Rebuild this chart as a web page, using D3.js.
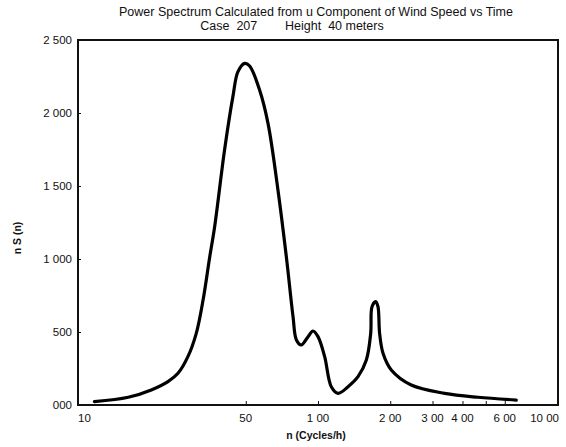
<!DOCTYPE html>
<html>
<head>
<meta charset="utf-8">
<script src="https://cdn.jsdelivr.net/npm/d3@7"></script>
<style>
  body { margin: 0; background: #fff; }
  text { font-family: "Liberation Sans", Arial, sans-serif; fill: #111; }
</style>
</head>
<body>
<div id="chart"></div>
<script>
// frequency n (cycles/h) and n S(n)
var freq = [11.7, 16.2, 20.2, 23.7, 26.1, 28.7, 31.1, 33.2, 35.4, 37.1, 40.8, 44.2, 46.4, 49.5, 51.9,
            57.1, 61.9, 68.1, 73.8, 78.7, 81.3, 85.2, 90.9, 95.3, 100, 106.6, 113.6, 121.2, 133.4,
            146.8, 159, 165.8, 167.9, 174, 177.8, 180.6, 186.6, 202, 244.6, 337, 464, 670];
var power = [23, 53, 103, 160, 217, 331, 491, 719, 1016, 1221, 1747, 2112, 2283, 2340, 2322,
             2157, 1929, 1473, 1016, 605, 445, 411, 468, 507, 468, 331, 125, 80, 125,
             194, 308, 491, 673, 708, 673, 491, 354, 240, 137, 80, 53, 34];

var xLabelVals = [10, 50, 100, 200, 300, 400, 600, 1000];
var xLabelText = ["10", "50", "1 00", "2 00", "3 00", "4 00", "6 00", "10 00"];
var xTickVals = [50, 100, 200, 300, 400, 500, 600];
var yTickVals = [0, 500, 1000, 1500, 2000, 2500];
var yTickText = ["000", "500", "1 000", "1 500", "2 000", "2 500"];

var W = 566, H = 447;
var margin = {top: 40, right: 8, bottom: 42, left: 78},
    width = W - margin.left - margin.right,
    height = H - margin.top - margin.bottom;

var svg = d3.select("#chart").append("svg")
    .attr("width", W)
    .attr("height", H);

var g = svg.append("g")
    .attr("transform", "translate(" + margin.left + "," + margin.top + ")");

var x = d3.scaleLog().domain([10, 1000]).range([0, width]);
var y = d3.scaleLinear().domain([0, 2500]).range([height, 0]);

// titles
svg.append("text")
  .attr("x", 316).attr("y", 16)
  .attr("text-anchor", "middle")
  .style("font-size", "12.5px")
  .text("Power Spectrum Calculated from u Component of Wind Speed vs Time");
svg.append("text")
  .attr("x", 292).attr("y", 30)
  .attr("text-anchor", "middle")
  .style("font-size", "12.5px")
  .style("white-space", "pre")
  .text("Case  207        Height  40 meters");

// small inner ticks
var xAxis = g.append("g")
  .attr("transform", "translate(0," + height + ")")
  .call(d3.axisBottom(x).tickValues(xTickVals).tickSize(-4).tickFormat(""));
xAxis.select(".domain").remove();

var yAxis = g.append("g")
  .call(d3.axisLeft(y).tickValues(yTickVals).tickSize(-3).tickFormat(""));
yAxis.select(".domain").remove();
g.selectAll(".tick line").attr("stroke", "#111").attr("stroke-width", 1);

// tick labels
g.selectAll(".xlab")
  .data(xLabelVals)
  .enter().append("text")
  .attr("x", function(d) { return x(d); })
  .attr("y", height + 17)
  .attr("text-anchor", function(d, i) { return i == 0 ? "start" : (i == xLabelVals.length - 1 ? "end" : "middle"); })
  .attr("dx", function(d, i) { return i == xLabelVals.length - 1 ? 1 : 0; })
  .style("font-size", "11.5px")
  .style("white-space", "pre")
  .text(function(d, i) { return xLabelText[i]; });

g.selectAll(".ylab")
  .data(yTickVals)
  .enter().append("text")
  .attr("x", -6)
  .attr("y", function(d) { return y(d); })
  .attr("dy", "0.35em")
  .attr("text-anchor", "end")
  .style("font-size", "11.5px")
  .text(function(d, i) { return yTickText[i]; });

// axis titles
svg.append("text")
  .attr("x", 316).attr("y", 439)
  .attr("text-anchor", "middle")
  .style("font-size", "10.5px")
  .style("font-weight", "bold")
  .text("n (Cycles/h)");
svg.append("text")
  .attr("transform", "translate(21,238) rotate(-90)")
  .attr("text-anchor", "middle")
  .style("font-size", "10.5px")
  .style("font-weight", "bold")
  .text("n S (n)");

// frame
g.append("rect")
  .attr("width", width).attr("height", height)
  .attr("fill", "none")
  .attr("stroke", "#111")
  .attr("stroke-width", 2);

// spectrum curve
var data = freq.map(function(f, i) { return {n: f, v: power[i]}; });
g.append("path")
  .datum(data)
  .attr("fill", "none")
  .attr("stroke", "#000")
  .attr("stroke-width", 3.2)
  .attr("stroke-linejoin", "round")
  .attr("stroke-linecap", "round")
  .attr("d", d3.line()
    .x(function(d) { return x(d.n); })
    .y(function(d) { return y(d.v); })
    .curve(d3.curveCatmullRom.alpha(0.5)));
</script>
</body>
</html>
